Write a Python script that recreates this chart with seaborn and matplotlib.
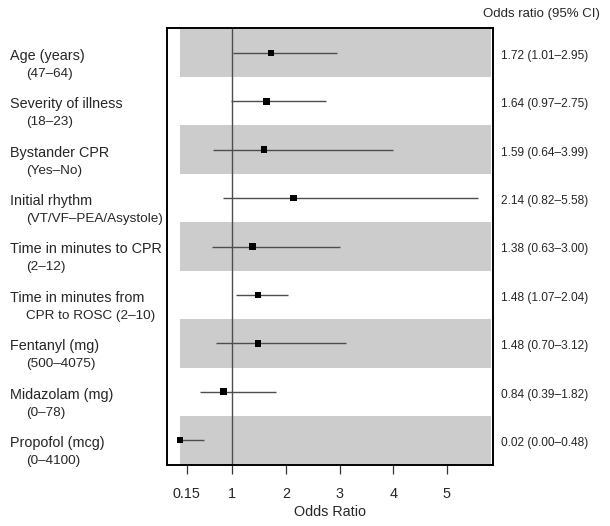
import numpy as np
import pandas as pd
import matplotlib
matplotlib.use("Agg")
import matplotlib.pyplot as plt
import seaborn as sns
from matplotlib.transforms import blended_transform_factory

# forest plot data
labels = ["Age (years)", "Severity of illness", "Bystander CPR", "Initial rhythm",
          "Time in minutes to CPR", "Time in minutes from", "Fentanyl (mg)",
          "Midazolam (mg)", "Propofol (mcg)"]
sublabels = ["(47\u201364)", "(18\u201323)", "(Yes\u2013No)", "(VT/VF\u2013PEA/Asystole)",
             "(2\u201312)", "CPR to ROSC (2\u201310)", "(500\u20134075)", "(0\u201378)",
             "(0\u20134100)"]
odds = [1.72, 1.64, 1.59, 2.14, 1.38, 1.48, 1.48, 0.84, 0.02]
ci_low = [1.01, 0.97, 0.64, 0.82, 0.63, 1.07, 0.70, 0.39, 0.00]
ci_high = [2.95, 2.75, 3.99, 5.58, 3.00, 2.04, 3.12, 1.82, 0.48]
xticks = [0.15, 1, 2, 3, 4, 5]

df = pd.DataFrame({"label": labels, "sub": sublabels, "OR": odds,
                   "lo": ci_low, "hi": ci_high})
df["pos"] = np.arange(len(df))

sns.set_style("white")
plt.rcParams["font.family"] = ["Liberation Sans", "DejaVu Sans"]

fig = plt.figure(figsize=(6.10, 5.26), dpi=100)
ax = fig.add_axes([0.2743, 0.1154, 0.5331, 0.8319])

xmin, xmax = -0.212, 5.85
ax.set_xlim(xmin, xmax)
ax.set_ylim(len(df) - 0.48, -0.52)

# shaded bands on alternate rows, starting at the smallest estimate
band_left = df["OR"].min()
for p in df["pos"][::2]:
    ax.barh(p, xmax - 0.03 - band_left, left=band_left, height=1.0,
            color="#cccccc", linewidth=0, zorder=0)

ax.axvline(1, color="#4d4d4d", lw=1.0, zorder=1)
ax.hlines(df["pos"], df["lo"], df["hi"], color="#4d4d4d", lw=1.0, zorder=2)
sns.scatterplot(data=df, x="OR", y="pos", marker="s", s=22, color="black",
                edgecolor="none", ax=ax, zorder=3, legend=False)

ax.set_yticks([])
ax.set_xticks(xticks)
ax.set_xticklabels(["0.15", "1", "2", "3", "4", "5"], fontsize=10.4)
ax.tick_params(axis="x", direction="out", length=6.5, width=0.9, pad=9,
               bottom=True, color="#333333")
ax.set_xlabel("Odds Ratio", fontsize=10.4, labelpad=3)
ax.set_ylabel("")
for s in ax.spines.values():
    s.set_color("black")
    s.set_linewidth(1.4)

# row labels on the left, estimates on the right
tr = blended_transform_factory(fig.transFigure, ax.transData)
for _, r in df.iterrows():
    ax.text(0.0164, r["pos"] + 0.06, r["label"], transform=tr, fontsize=10.4,
            va="center", ha="left")
    ax.text(0.043, r["pos"] + 0.43, r["sub"], transform=tr, fontsize=9.7,
            va="center", ha="left")
    ax.text(0.821, r["pos"] + 0.06,
            "%.2f (%.2f\u2013%.2f)" % (r["OR"], r["lo"], r["hi"]),
            transform=tr, fontsize=8.6, va="center", ha="left")
fig.text(0.792, 0.973, "Odds ratio (95% CI)", fontsize=9.5, va="center", ha="left")

fig.savefig("out.png", dpi=100)
